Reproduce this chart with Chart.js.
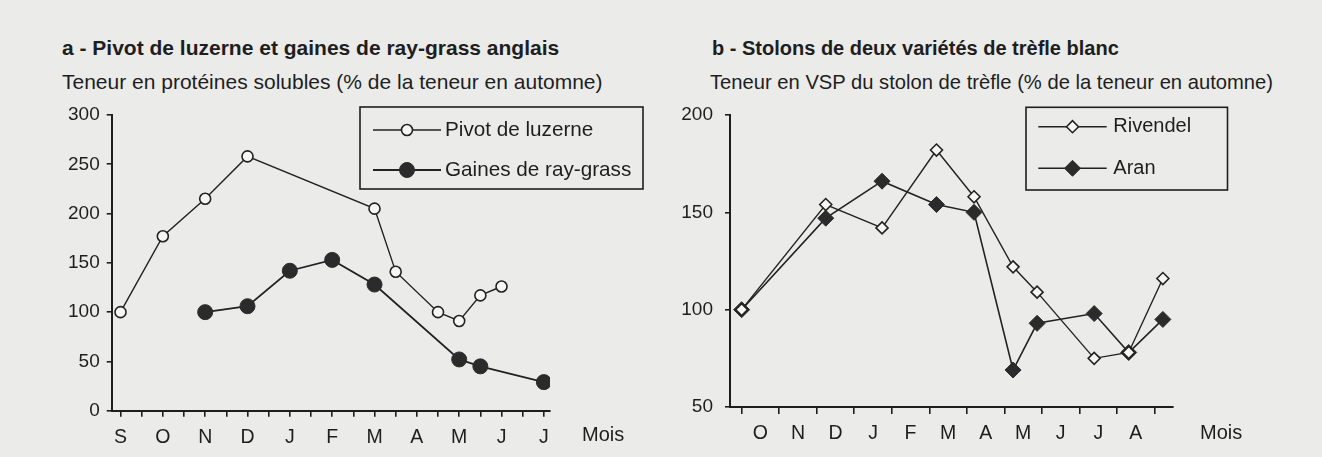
<!DOCTYPE html>
<html>
<head>
<meta charset="utf-8">
<script src="https://cdn.jsdelivr.net/npm/chart.js@4.4.1/dist/chart.umd.min.js"></script>
<style>
  html, body { margin:0; padding:0; background:#ebebea; }
  #page { position:relative; width:1322px; height:457px; overflow:hidden; background:#ebebea;
          font-family:"Liberation Sans", Arial, Helvetica, sans-serif; color:#1e1e1e; }
  .ttl { position:absolute; white-space:nowrap; font-weight:bold; line-height:24px; }
  .sub { position:absolute; white-space:nowrap; line-height:24px; }
  canvas { position:absolute; top:0; }
</style>
</head>
<body>
<div id="page">
  <div class="ttl" id="tA" style="left:62px; top:36px; font-size:21px;"></div>
  <div class="sub" id="sA" style="left:62px; top:70px; font-size:21px;"></div>
  <div class="ttl" id="tB" style="left:712px; top:36px; font-size:20px;"></div>
  <div class="sub" id="sB" style="left:710px; top:70px; font-size:20.2px;"></div>
  <div style="position:absolute; left:0; top:0; width:661px; height:457px;"><canvas id="cA"></canvas></div>
  <div style="position:absolute; left:661px; top:0; width:661px; height:457px;"><canvas id="cB"></canvas></div>
</div>
<script>
// ---------- Texts ----------
const titleA = "a - Pivot de luzerne et gaines de ray-grass anglais";
const subtitleA = "Teneur en protéines solubles (% de la teneur en automne)";
const titleB = "b - Stolons de deux variétés de trèfle blanc";
const subtitleB = "Teneur en VSP du stolon de trèfle (% de la teneur en automne)";
const xAxisTitle = "Mois";

// ---------- Chart a ----------
// x positions in half-month tick units (S = 0, O = 2, ...)
const monthsA = ["S","O","N","D","J","F","M","A","M","J","J"];
const yTicksA = [0, 50, 100, 150, 200, 250, 300];
const luzerneX = [0, 2, 4, 6, 12, 13, 15, 16, 17, 18];
const luzerneY = [100, 177, 215, 258, 205, 141, 100, 91, 117, 126];
const gainesX  = [4, 6, 8, 10, 12, 16, 17, 20];
const gainesY  = [100, 106, 142, 153, 128, 52, 45, 29];
const labelLuzerne = "Pivot de luzerne";
const labelGaines = "Gaines de ray-grass";

// ---------- Chart b ----------
// x positions in month units (tick marks at month boundaries)
const monthsB = ["O","N","D","J","F","M","A","M","J","J","A"];
const yTicksB = [50, 100, 150, 200];
const trefleX   = [0, 2.24, 3.74, 5.19, 6.19, 7.23, 7.87, 9.39, 10.31, 11.22];
const rivendelY = [100, 154, 142, 182, 158, 122, 109, 75, 78, 116];
const aranY     = [100, 147, 166, 154, 150, 69, 93, 98, 78, 95];
const labelRivendel = "Rivendel";
const labelAran = "Aran";

document.getElementById('tA').textContent = titleA;
document.getElementById('sA').textContent = subtitleA;
document.getElementById('tB').textContent = titleB;
document.getElementById('sB').textContent = subtitleB;

const INK = '#1e1e1e';
const FONT = '"Liberation Sans", Arial, Helvetica, sans-serif';
const pts = (xs, ys) => xs.map((x, i) => ({x, y: ys[i]}));

const boxLegend = {
  id: 'boxLegend',
  afterDraw(chart, args, o) {
    const ctx = chart.ctx;
    ctx.save();
    ctx.strokeStyle = INK; ctx.lineWidth = o.borderWidth;
    ctx.strokeRect(o.left, o.top, o.width, o.height);
    chart.data.datasets.forEach((ds, i) => {
      const y = o.rows[i];
      ctx.beginPath();
      ctx.moveTo(o.lineStart, y); ctx.lineTo(o.lineEnd, y);
      ctx.lineWidth = ds.borderWidth; ctx.strokeStyle = ds.borderColor; ctx.stroke();
      ctx.fillStyle = ds.pointBackgroundColor; ctx.strokeStyle = ds.pointBorderColor;
      ctx.lineWidth = ds.pointBorderWidth;
      Chart.helpers.drawPoint(ctx, {pointStyle: ds.pointStyle, radius: ds.pointRadius,
        borderWidth: ds.pointBorderWidth, rotation: 0}, (o.lineStart + o.lineEnd) / 2, y);
      ctx.fillStyle = INK; ctx.font = o.font; ctx.textBaseline = 'middle'; ctx.textAlign = 'left';
      ctx.fillText(ds.label, o.textX, y);
    });
    ctx.font = o.titleFont; ctx.fillStyle = INK; ctx.textBaseline = 'middle'; ctx.textAlign = 'left';
    ctx.fillText(xAxisTitle, o.axisTitleX, o.axisTitleY);
    ctx.restore();
  }
};

function baseOptions(cfg) {
  return {
    responsive: true, maintainAspectRatio: false, animation: false,
    layout: { padding: { top: cfg.top, right: cfg.right, left: 0, bottom: 0 } },
    plugins: { legend: { display: false }, tooltip: { enabled: false }, boxLegend: cfg.legend },
    elements: { line: { tension: 0 } },
    scales: {
      x: {
        type: 'linear', min: cfg.xmin, max: cfg.xmax,
        afterFit: s => { s.height = cfg.xHeight; },
        afterBuildTicks: s => { s.ticks = cfg.xTicks.map(v => ({value: v})); },
        border: { display: true, color: INK, width: 2 },
        grid: { drawOnChartArea: false, drawTicks: true, tickLength: cfg.xTickLen, lineWidth: 1.6,
                color: cfg.xTickColor },
        ticks: { autoSkip: false, maxRotation: 0, padding: cfg.xPad, color: INK,
                 font: { family: FONT, size: 19.5 }, callback: cfg.xLabel }
      },
      y: {
        min: cfg.ymin, max: cfg.ymax,
        afterFit: s => { s.width = cfg.yWidth; },
        afterBuildTicks: s => { s.ticks = cfg.yTicks.map(v => ({value: v})); },
        border: { display: true, color: INK, width: 2 },
        grid: { drawOnChartArea: false, drawTicks: true, tickLength: 5, lineWidth: 1.6, color: INK },
        ticks: { padding: cfg.yPad, color: INK, font: { family: FONT, size: 19 } }
      }
    }
  };
}

// ---------- Build chart a ----------
const xTicksA = monthsA.flatMap((m, i) => i < monthsA.length - 1 ? [2 * i, 2 * i + 1] : [2 * i]);
new Chart(document.getElementById('cA'), {
  type: 'line',
  data: { datasets: [
    { label: labelLuzerne, data: pts(luzerneX, luzerneY), borderColor: '#222', borderWidth: 1.4,
      pointStyle: 'circle', pointRadius: 5.5, pointBorderWidth: 1.6,
      pointBackgroundColor: '#f6f6f4', pointBorderColor: '#222' },
    { label: labelGaines, data: pts(gainesX, gainesY), borderColor: '#222', borderWidth: 1.8,
      pointStyle: 'circle', pointRadius: 7.5, pointBorderWidth: 1,
      pointBackgroundColor: '#2b2b2b', pointBorderColor: '#2b2b2b' }
  ]},
  options: baseOptions({
    top: 115, right: 111, xmin: -0.416, xmax: 20.29, ymin: 0, ymax: 300,
    xHeight: 457 - 410.7, yWidth: 111.7, xTickLen: 6, xPad: 9, yPad: 7,
    xTicks: xTicksA, yTicks: yTicksA, xTickColor: INK,
    xLabel: v => (v % 2 === 0 ? monthsA[v / 2] : ''),
    legend: { left: 360, top: 107, width: 283, height: 82, borderWidth: 1.6,
              rows: [130, 170], lineStart: 373, lineEnd: 441, textX: 445,
              font: '20.7px ' + FONT, titleFont: '20px ' + FONT, axisTitleX: 582, axisTitleY: 435 }
  }),
  plugins: [boxLegend]
});

// ---------- Build chart b ----------
const xTicksB = [];
for (let i = 0; i <= monthsB.length; i++) { xTicksB.push(i); if (i < monthsB.length) xTicksB.push(i + 0.5); }
new Chart(document.getElementById('cB'), {
  type: 'line',
  data: { datasets: [
    { label: labelRivendel, data: pts(trefleX, rivendelY), borderColor: '#222', borderWidth: 1.4,
      pointStyle: 'rectRot', pointRadius: 6, pointBorderWidth: 1.6,
      pointBackgroundColor: '#f6f6f4', pointBorderColor: '#222' },
    { label: labelAran, data: pts(trefleX, aranY), borderColor: '#222', borderWidth: 1.6,
      pointStyle: 'rectRot', pointRadius: 8, pointBorderWidth: 1,
      pointBackgroundColor: '#2b2b2b', pointBorderColor: '#2b2b2b' }
  ]},
  options: baseOptions({
    top: 115, right: 149, xmin: -0.31, xmax: 11.49, ymin: 50, ymax: 200,
    xHeight: 457 - 407, yWidth: 69, xTickLen: 7, xPad: 8, yPad: 12,
    xTicks: xTicksB, yTicks: yTicksB,
    xTickColor: c => (Number.isInteger(c.tick && c.tick.value) ? INK : 'rgba(0,0,0,0)'),
    xLabel: v => (Number.isInteger(v) ? '' : monthsB[Math.floor(v)]),
    legend: { left: 365, top: 107.3, width: 201.5, height: 82.7, borderWidth: 1.6,
              rows: [126.7, 168.3], lineStart: 377.3, lineEnd: 445.7, textX: 452.3,
              font: '20px ' + FONT, titleFont: '20px ' + FONT, axisTitleX: 539, axisTitleY: 433 }
  }),
  plugins: [boxLegend]
});
</script>
</body>
</html>
